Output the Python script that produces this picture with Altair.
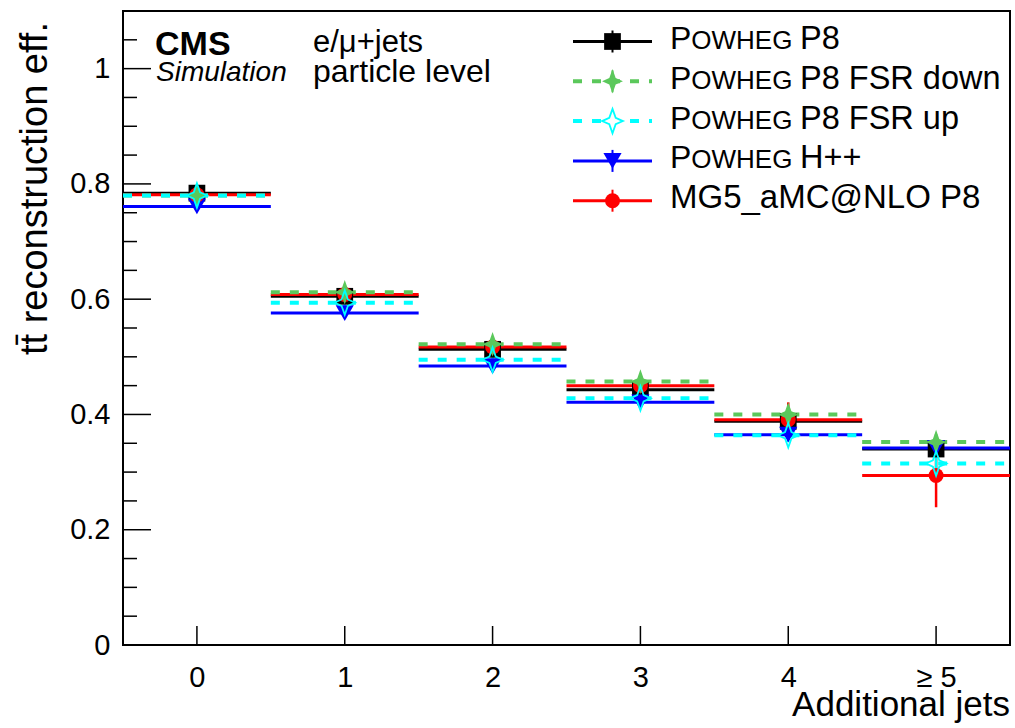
import altair as alt
import pandas as pd

# ---------------- data ----------------
bins = [0, 1, 2, 3, 4, 5]
bin_labels = ["0", "1", "2", "3", "4", "≥ 5"]

powheg_p8 = [0.784, 0.605, 0.513, 0.443, 0.388, 0.340]
powheg_p8_err = [0.003, 0.004, 0.004, 0.005, 0.006, 0.008]
fsr_down = [0.780, 0.612, 0.522, 0.457, 0.400, 0.352]
fsr_down_err = [0.006, 0.008, 0.009, 0.010, 0.012, 0.014]
fsr_up = [0.780, 0.594, 0.495, 0.428, 0.364, 0.315]
fsr_up_err = [0.006, 0.008, 0.009, 0.010, 0.012, 0.014]
herwig = [0.761, 0.576, 0.484, 0.421, 0.365, 0.342]
herwig_err = [0.004, 0.005, 0.006, 0.007, 0.008, 0.010]
mg5 = [0.781, 0.608, 0.517, 0.450, 0.391, 0.294]
mg5_err = [0.008, 0.012, 0.015, 0.020, 0.030, 0.055]

y_major = [0.0, 0.2, 0.4, 0.6, 0.8, 1.0]
y_minor = [0.05, 0.1, 0.15, 0.25, 0.3, 0.35, 0.45, 0.5, 0.55, 0.65, 0.7, 0.75,
           0.85, 0.9, 0.95, 1.05]

FONT = "Liberation Sans"
W, H = 887, 634
star = "M0,-1L0.26,-0.26L0.85,0L0.26,0.26L0,1L-0.26,0.26L-0.85,0L-0.26,-0.26Z"

series = {
    "p8":   dict(vals=powheg_p8, errs=powheg_p8_err, color="#000000", dash=[1, 0], lw=3,
                 shape="square", filled=True, size=280, row=0,
                 label=("P", "OWHEG", "P8")),
    "down": dict(vals=fsr_down, errs=fsr_down_err, color="#5bc85b", dash=[9, 10], lw=4,
                 shape=star, filled=True, size=600, row=1,
                 label=("P", "OWHEG", "P8 FSR down")),
    "up":   dict(vals=fsr_up, errs=fsr_up_err, color="#00ffff", dash=[9, 10], lw=4,
                 shape=star, filled=False, size=600, row=2,
                 label=("P", "OWHEG", "P8 FSR up")),
    "hpp":  dict(vals=herwig, errs=herwig_err, color="#0000ff", dash=[1, 0], lw=3,
                 shape="triangle-down", filled=True, size=330, row=3,
                 label=("P", "OWHEG", "H++")),
    "mg5":  dict(vals=mg5, errs=mg5_err, color="#ff0000", dash=[1, 0], lw=3,
                 shape="circle", filled=True, size=225, row=4,
                 label=None),
}
draw_order = ["p8", "hpp", "mg5", "down", "up"]

xs = alt.Scale(domain=[-0.5, 5.5], nice=False, zero=False)
ys = alt.Scale(domain=[0, 1.1], nice=False, zero=False)
xaxis = alt.Axis(values=bins, format="d",
                 labelExpr="datum.value == 5 ? '≥ 5' : datum.label",
                 ticks=False, tickSize=0, domain=False, grid=False,
                 labelFont=FONT, labelFontSize=29, labelColor="black",
                 labelBaseline="alphabetic", labelPadding=41, title=None)
yaxis = alt.Axis(values=y_major, format=".1~f",
                 ticks=False, tickSize=0, domain=False, grid=False,
                 labelFont=FONT, labelFontSize=29, labelColor="black",
                 labelBaseline="middle", labelPadding=13, title=None)


def X(f):
    return alt.X(f, type="quantitative", scale=xs, axis=xaxis, title=None)


def Y(f):
    return alt.Y(f, type="quantitative", scale=ys, axis=yaxis, title=None)


layers = []
dummy = pd.DataFrame({"k": [0]})

# axis ticks drawn inside the frame
layers.append(alt.Chart(pd.DataFrame({"v": y_major})).mark_rule(color="black", strokeWidth=1.5)
              .encode(y=Y("v"), x=alt.value(0), x2=alt.value(28)))
layers.append(alt.Chart(pd.DataFrame({"v": y_minor})).mark_rule(color="black", strokeWidth=1.5)
              .encode(y=Y("v"), x=alt.value(0), x2=alt.value(14)))
layers.append(alt.Chart(pd.DataFrame({"b": bins})).mark_rule(color="black", strokeWidth=1.5)
              .encode(x=X("b"), y=alt.value(H), y2=alt.value(H - 19)))

frames = {}
for key, s in series.items():
    frames[key] = pd.DataFrame({
        "bin": bins,
        "lo": [b - 0.5 for b in bins],
        "hi": [b + 0.5 for b in bins],
        "val": s["vals"],
        "elo": [v - e for v, e in zip(s["vals"], s["errs"])],
        "ehi": [v + e for v, e in zip(s["vals"], s["errs"])],
    })

# horizontal bin lines and vertical error bars
for key in draw_order:
    s = series[key]
    df = frames[key]
    layers.append(alt.Chart(df).mark_rule(color=s["color"], strokeWidth=s["lw"], strokeDash=s["dash"])
                  .encode(x=X("lo"), x2=alt.X2("hi"), y=Y("val")))
    layers.append(alt.Chart(df).mark_rule(color=s["color"], strokeWidth=2.5)
                  .encode(x=X("bin"), y=Y("elo"), y2=alt.Y2("ehi")))

# markers
for key in draw_order:
    s = series[key]
    df = frames[key]
    layers.append(alt.Chart(df).mark_point(shape=s["shape"], filled=s["filled"], size=s["size"],
                                           color=s["color"], opacity=1,
                                           strokeWidth=(1.8 if not s["filled"] else 0.5))
                  .encode(x=X("bin"), y=Y("val")))

# manual legend
LX0, LX1, LXM = 450, 529, 489.5
TX = 547
for key, s in series.items():
    ly = 30.5 + 39.8 * s["row"]
    layers.append(alt.Chart(dummy).mark_rule(color=s["color"], strokeWidth=s["lw"], strokeDash=s["dash"])
                  .encode(x=alt.value(LX0), x2=alt.value(LX1), y=alt.value(ly)))
    layers.append(alt.Chart(dummy).mark_rule(color=s["color"], strokeWidth=2)
                  .encode(x=alt.value(LXM), y=alt.value(ly - 11), y2=alt.value(ly + 11)))
    layers.append(alt.Chart(dummy).mark_point(shape=s["shape"], filled=s["filled"], size=s["size"],
                                              color=s["color"], opacity=1,
                                              fill=("white" if not s["filled"] else s["color"]),
                                              strokeWidth=(1.8 if not s["filled"] else 0.5))
                  .encode(x=alt.value(LXM), y=alt.value(ly)))
    base = ly + 7.5
    if s["label"] is None:
        layers.append(alt.Chart(dummy).mark_text(align="left", baseline="alphabetic", font=FONT,
                                                 fontSize=33, color="black")
                      .encode(x=alt.value(TX), y=alt.value(base), text=alt.value("MG5_aMC@NLO P8")))
    else:
        p, sc, rest = s["label"]
        layers.append(alt.Chart(dummy).mark_text(align="left", baseline="alphabetic", font=FONT,
                                                 fontSize=32, color="black")
                      .encode(x=alt.value(TX), y=alt.value(base), text=alt.value(p)))
        layers.append(alt.Chart(dummy).mark_text(align="left", baseline="alphabetic", font=FONT,
                                                 fontSize=26, color="black")
                      .encode(x=alt.value(TX + 21.3), y=alt.value(base), text=alt.value(sc)))
        layers.append(alt.Chart(dummy).mark_text(align="left", baseline="alphabetic", font=FONT,
                                                 fontSize=32.5, color="black")
                      .encode(x=alt.value(TX + 130), y=alt.value(base), text=alt.value(rest)))


def txt(t, x, y, size, weight="normal", style="normal", align="left", angle=0):
    kw = dict(align=align, baseline="alphabetic", font=FONT, fontSize=size, color="black",
              fontWeight=weight, fontStyle=style)
    if angle:
        kw["angle"] = angle
    return alt.Chart(dummy).mark_text(**kw).encode(x=alt.value(x), y=alt.value(y), text=alt.value(t))


layers.append(txt("CMS", 32, 44, 34, weight="bold"))
layers.append(txt("Simulation", 33, 70, 28, style="italic"))
layers.append(txt("e/μ+jets", 190, 41, 31))
layers.append(txt("particle level", 190, 71, 32))
layers.append(txt("Additional jets", W, 705, 35, align="right"))
layers.append(txt("tt\u0304 reconstruction eff.", -76, 11, 38, align="right", angle=270))

chart = alt.layer(*layers).properties(
    width=W, height=H, autosize="none",
    padding={"left": 123, "top": 11, "right": 5, "bottom": 83},
).configure(background="white").configure_view(stroke="black", strokeWidth=2)

chart.save("out.html", embed_options={"renderer": "svg", "actions": False})
